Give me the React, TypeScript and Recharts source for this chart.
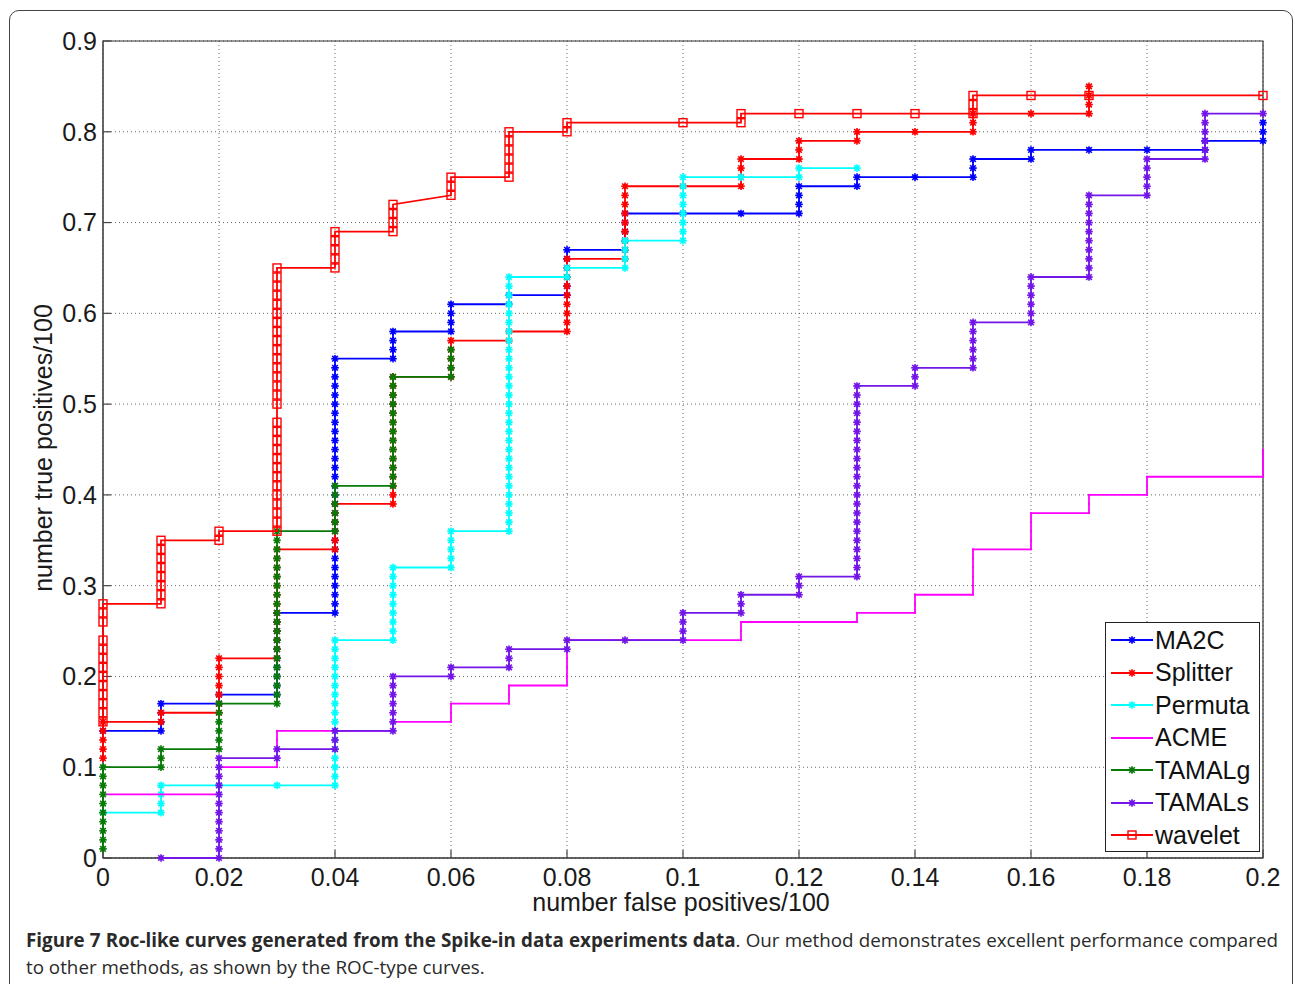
import React from 'react';
import {
  ScatterChart,
  Scatter,
  XAxis,
  YAxis,
  CartesianGrid,
  ReferenceArea,
} from 'recharts';

// x and y are in hundredths: [falsePositives*100, [truePositives*100, ...]]
type Col = [number, number[]];

const MA2C: Col[] = [
  [0, [14]],
  [1, [14, 15, 16, 17]],
  [2, [17, 18]],
  [3, [18, 19, 20, 21, 22, 23, 24, 25, 26, 27]],
  [4, [27, 28, 29, 30, 31, 32, 33, 34, 35, 36, 37, 38, 39, 40, 41, 42, 43, 44, 45, 46, 47, 48, 49, 50, 51, 52, 53, 54, 55]],
  [5, [55, 56, 57, 58]],
  [6, [58, 59, 60, 61]],
  [7, [61, 62]],
  [8, [62, 63, 64, 65, 66, 67]],
  [9, [67, 68, 69, 70, 71]],
  [10, [71]],
  [11, [71]],
  [12, [71, 72, 73, 74]],
  [13, [74, 75]],
  [14, [75]],
  [15, [75, 76, 77]],
  [16, [77, 78]],
  [17, [78]],
  [18, [78]],
  [19, [78, 79]],
  [20, [79, 80, 81]],
];

const SPLITTER: Col[] = [
  [0, [11, 12, 13, 14, 15]],
  [1, [15, 16]],
  [2, [16, 17, 18, 19, 20, 21, 22]],
  [3, [22, 23, 24, 25, 26, 27, 28, 29, 30, 31, 32, 33, 34]],
  [4, [34, 35, 36, 37, 38, 39]],
  [5, [39, 40, 41, 42, 43, 44, 45, 46, 47, 48, 49, 50, 51, 52, 53]],
  [6, [53, 54, 55, 56, 57]],
  [7, [57, 58]],
  [8, [58, 59, 60, 61, 62, 63, 64, 65, 66]],
  [9, [66, 67, 68, 69, 70, 71, 72, 73, 74]],
  [10, [74]],
  [11, [74, 75, 76, 77]],
  [12, [77, 78, 79]],
  [13, [79, 80]],
  [14, [80]],
  [15, [80, 81, 82]],
  [16, [82]],
  [17, [82, 83, 84, 85]],
];

const PERMUTA: Col[] = [
  [0, [5]],
  [1, [5, 6, 7, 8]],
  [2, [8]],
  [3, [8]],
  [4, [8, 9, 10, 11, 12, 13, 14, 15, 16, 17, 18, 19, 20, 21, 22, 23, 24]],
  [5, [24, 25, 26, 27, 28, 29, 30, 31, 32]],
  [6, [32, 33, 34, 35, 36]],
  [7, [36, 37, 38, 39, 40, 41, 42, 43, 44, 45, 46, 47, 48, 49, 50, 51, 52, 53, 54, 55, 56, 57, 58, 59, 60, 61, 62, 63, 64]],
  [8, [64, 65]],
  [9, [65, 66, 67, 68]],
  [10, [68, 69, 70, 71, 72, 73, 74, 75]],
  [11, [75]],
  [12, [75, 76]],
  [13, [76]],
];

const ACME: Col[] = [
  [0, [7]],
  [2, [7, 8, 9, 10]],
  [3, [10, 11, 12, 13, 14]],
  [5, [14, 15]],
  [6, [15, 16, 17]],
  [7, [17, 18, 19]],
  [8, [19, 20, 21, 22, 23, 24]],
  [11, [24, 25, 26]],
  [13, [26, 27]],
  [14, [27, 28, 29]],
  [15, [29, 30, 31, 32, 33, 34]],
  [16, [34, 35, 36, 37, 38]],
  [17, [38, 39, 40]],
  [18, [40, 41, 42]],
  [20, [42, 43, 44, 45]],
];

const TAMALG: Col[] = [
  [0, [1, 2, 3, 4, 5, 6, 7, 8, 9, 10]],
  [1, [10, 11, 12]],
  [2, [12, 13, 14, 15, 16, 17]],
  [3, [17, 18, 19, 20, 21, 22, 23, 24, 25, 26, 27, 28, 29, 30, 31, 32, 33, 34, 35, 36]],
  [4, [36, 37, 38, 39, 40, 41]],
  [5, [41, 42, 43, 44, 45, 46, 47, 48, 49, 50, 51, 52, 53]],
  [6, [53, 54, 55, 56]],
];

const TAMALS: Col[] = [
  [1, [0]],
  [2, [0, 1, 2, 3, 4, 5, 6, 7, 8, 9, 10, 11]],
  [3, [11, 12]],
  [4, [12, 13, 14]],
  [5, [14, 15, 16, 17, 18, 19, 20]],
  [6, [20, 21]],
  [7, [21, 22, 23]],
  [8, [23, 24]],
  [9, [24]],
  [10, [24, 25, 26, 27]],
  [11, [27, 28, 29]],
  [12, [29, 30, 31]],
  [13, [31, 32, 33, 34, 35, 36, 37, 38, 39, 40, 41, 42, 43, 44, 45, 46, 47, 48, 49, 50, 51, 52]],
  [14, [52, 53, 54]],
  [15, [54, 55, 56, 57, 58, 59]],
  [16, [59, 60, 61, 62, 63, 64]],
  [17, [64, 65, 66, 67, 68, 69, 70, 71, 72, 73]],
  [18, [73, 74, 75, 76, 77]],
  [19, [77, 78, 79, 80, 81, 82]],
  [20, [82]],
];

const WAVELET: Col[] = [
  [0, [15, 16, 17, 18, 19, 20, 21, 22, 23, 24, 26, 27, 28]],
  [1, [28, 29, 30, 31, 32, 33, 34, 35]],
  [2, [35, 36]],
  [3, [36, 37, 38, 39, 40, 41, 42, 43, 44, 45, 46, 47, 48, 50, 51, 52, 53, 54, 55, 56, 57, 58, 59, 60, 61, 62, 63, 64, 65]],
  [4, [65, 66, 67, 68, 69]],
  [5, [69, 70, 71, 72]],
  [6, [73, 74, 75]],
  [7, [75, 76, 77, 78, 79, 80]],
  [8, [80, 81]],
  [10, [81]],
  [11, [81, 82]],
  [12, [82]],
  [13, [82]],
  [14, [82]],
  [15, [82, 83, 84]],
  [16, [84]],
  [17, [84]],
  [20, [84]],
];

const X_TICKS = [0, 0.02, 0.04, 0.06, 0.08, 0.1, 0.12, 0.14, 0.16, 0.18, 0.2];
const Y_TICKS = [0, 0.1, 0.2, 0.3, 0.4, 0.5, 0.6, 0.7, 0.8, 0.9];

const SERIES_NAMES = ['MA2C', 'Splitter', 'Permuta', 'ACME', 'TAMALg', 'TAMALs', 'wavelet'];
const SERIES_COLS = [MA2C, SPLITTER, PERMUTA, ACME, TAMALG, TAMALS, WAVELET];
const SERIES_COLORS = ['#0000ff', '#ff0000', '#00ffff', '#ff00ff', '#087a08', '#7316e8', '#ff0000'];
const SERIES_MARKERS = ['star', 'star', 'star', 'dot', 'star', 'star', 'square'];

const toPoints = (cols: Col[]) =>
  cols.flatMap(([x, ys]) => ys.map((y) => ({ x: x / 100, y: y / 100 })));

const FONT = '"Liberation Sans", Arial, Helvetica, sans-serif';
const FS = 25;

function Marker({ cx, cy, color, kind }: { cx: number; cy: number; color: string; kind: string }) {
  if (cx == null || cy == null || isNaN(cx) || isNaN(cy)) return null;
  if (kind === 'square') {
    return <rect x={cx - 4} y={cy - 4} width={8} height={8} fill="none" stroke={color} strokeWidth={1.4} />;
  }
  if (kind === 'dot') {
    return <circle cx={cx} cy={cy} r={1.1} fill={color} />;
  }
  const h = 3.8;
  const d = 2.8;
  return (
    <g stroke={color} strokeWidth={1.6}>
      <circle cx={cx} cy={cy} r={2.4} fill={color} stroke="none" />
      <line x1={cx - h} y1={cy} x2={cx + h} y2={cy} />
      <line x1={cx} y1={cy - h} x2={cx} y2={cy + h} />
      <line x1={cx - d} y1={cy - d} x2={cx + d} y2={cy + d} />
      <line x1={cx - d} y1={cy + d} x2={cx + d} y2={cy - d} />
    </g>
  );
}

function LegendBox() {
  return (
    <div
      style={{
        position: 'absolute',
        left: 1105,
        top: 622,
        width: 155,
        height: 230,
        border: '1.3px solid #222',
        background: '#fff',
        boxSizing: 'border-box',
      }}
    >
      {SERIES_NAMES.map((name, i) => (
        <div
          key={name}
          style={{
            position: 'absolute',
            left: 3,
            top: 3 + i * 32.5,
            height: 28,
            display: 'flex',
            alignItems: 'center',
            fontFamily: FONT,
            fontSize: FS,
            color: '#111',
            whiteSpace: 'nowrap',
          }}
        >
          <svg width={46} height={28} style={{ display: 'block' }}>
            <line x1={2} y1={14} x2={44} y2={14} stroke={SERIES_COLORS[i]} strokeWidth={1.8} />
            <Marker cx={23} cy={14} color={SERIES_COLORS[i]} kind={SERIES_MARKERS[i]} />
          </svg>
          <span style={{ marginLeft: 0 }}>{name}</span>
        </div>
      ))}
    </div>
  );
}

export default function App() {
  const W = 1295;
  const H = 984;
  return (
    <div
      style={{
        position: 'absolute',
        left: 0,
        top: 0,
        width: W,
        height: H,
        overflow: 'hidden',
        background: '#fff',
      }}
    >
      <div
        style={{
          position: 'absolute',
          left: 9,
          top: 10,
          width: 1284,
          height: 1010,
          border: '1.6px solid #444',
          borderRadius: 10,
          boxSizing: 'border-box',
        }}
      />
      <div style={{ position: 'absolute', left: 0, top: 0 }}>
        <ScatterChart width={W} height={H} margin={{ top: 41, right: 32, bottom: 86, left: 43 }}>
          <CartesianGrid stroke="#666" strokeDasharray="1 3" strokeWidth={1} />
          <XAxis
            dataKey="x"
            type="number"
            domain={[0, 0.2]}
            ticks={X_TICKS}
            interval={0}
            height={40}
            axisLine={{ stroke: '#333', strokeWidth: 1.2 }}
            tickLine={{ stroke: '#444', strokeWidth: 1.2 }}
            tickSize={-8}
            tickMargin={18}
            tick={{ fontSize: FS, fill: '#1a1a1a', fontFamily: FONT }}
          />
          <XAxis
            xAxisId="top"
            orientation="top"
            type="number"
            domain={[0, 0.2]}
            ticks={X_TICKS}
            interval={0}
            height={0}
            axisLine={{ stroke: '#333', strokeWidth: 1.2 }}
            tickLine={{ stroke: '#444', strokeWidth: 1.2 }}
            tickSize={-8}
            tick={false}
          />
          <YAxis
            dataKey="y"
            type="number"
            domain={[0, 0.9]}
            ticks={Y_TICKS}
            interval={0}
            width={60}
            axisLine={{ stroke: '#555', strokeWidth: 1.2 }}
            tickLine={{ stroke: '#444', strokeWidth: 1.2 }}
            tickSize={-8}
            tickMargin={14}
            tick={{ fontSize: FS, fill: '#1a1a1a', fontFamily: FONT }}
          />
          <YAxis
            yAxisId="right"
            orientation="right"
            type="number"
            domain={[0, 0.9]}
            ticks={Y_TICKS}
            interval={0}
            width={0}
            axisLine={{ stroke: '#333', strokeWidth: 1.2 }}
            tickLine={{ stroke: '#444', strokeWidth: 1.2 }}
            tickSize={-8}
            tick={false}
          />
          <ReferenceArea x1={0} x2={0.2} y1={0} y2={0.9} fill="#fff" fillOpacity={0} stroke="#333" strokeWidth={1.2} />
          {SERIES_NAMES.map((name, i) => {
            const color = SERIES_COLORS[i];
            const kind = SERIES_MARKERS[i];
            return (
              <Scatter
                key={name}
                name={name}
                data={toPoints(SERIES_COLS[i])}
                fill={color}
                line={{ stroke: color, strokeWidth: 1.8 }}
                lineType="joint"
                isAnimationActive={false}
                shape={(p: any) => <Marker cx={p.cx} cy={p.cy} color={color} kind={kind} />}
              />
            );
          })}
        </ScatterChart>
      </div>
      <LegendBox />
      <svg
        width={W}
        height={H}
        style={{ position: 'absolute', left: 0, top: 0, pointerEvents: 'none' }}
      >
        <text x={681} y={911} textAnchor="middle" fontFamily={FONT} fontSize={FS} fill="#1a1a1a">
          number false positives/100
        </text>
        <text
          x={52}
          y={448}
          textAnchor="middle"
          fontFamily={FONT}
          fontSize={FS}
          fill="#1a1a1a"
          transform="rotate(-90 52 448)"
        >
          number true positives/100
        </text>
      </svg>
      <div
        style={{
          position: 'absolute',
          left: 26,
          top: 927,
          width: 1252,
          fontFamily: '"Open Sans", "Noto Sans", sans-serif',
          fontSize: 18.8,
          lineHeight: '27px',
          color: '#2a2a2a',
        }}
      >
        <div style={{ textAlign: 'justify', textAlignLast: 'justify', whiteSpace: 'nowrap' as any, height: 27 }}>
          <b>Figure 7 Roc-like curves generated from the Spike-in data experiments data</b>. Our method demonstrates excellent performance compared
        </div>
        <div>to other methods, as shown by the ROC-type curves.</div>
      </div>
    </div>
  );
}
